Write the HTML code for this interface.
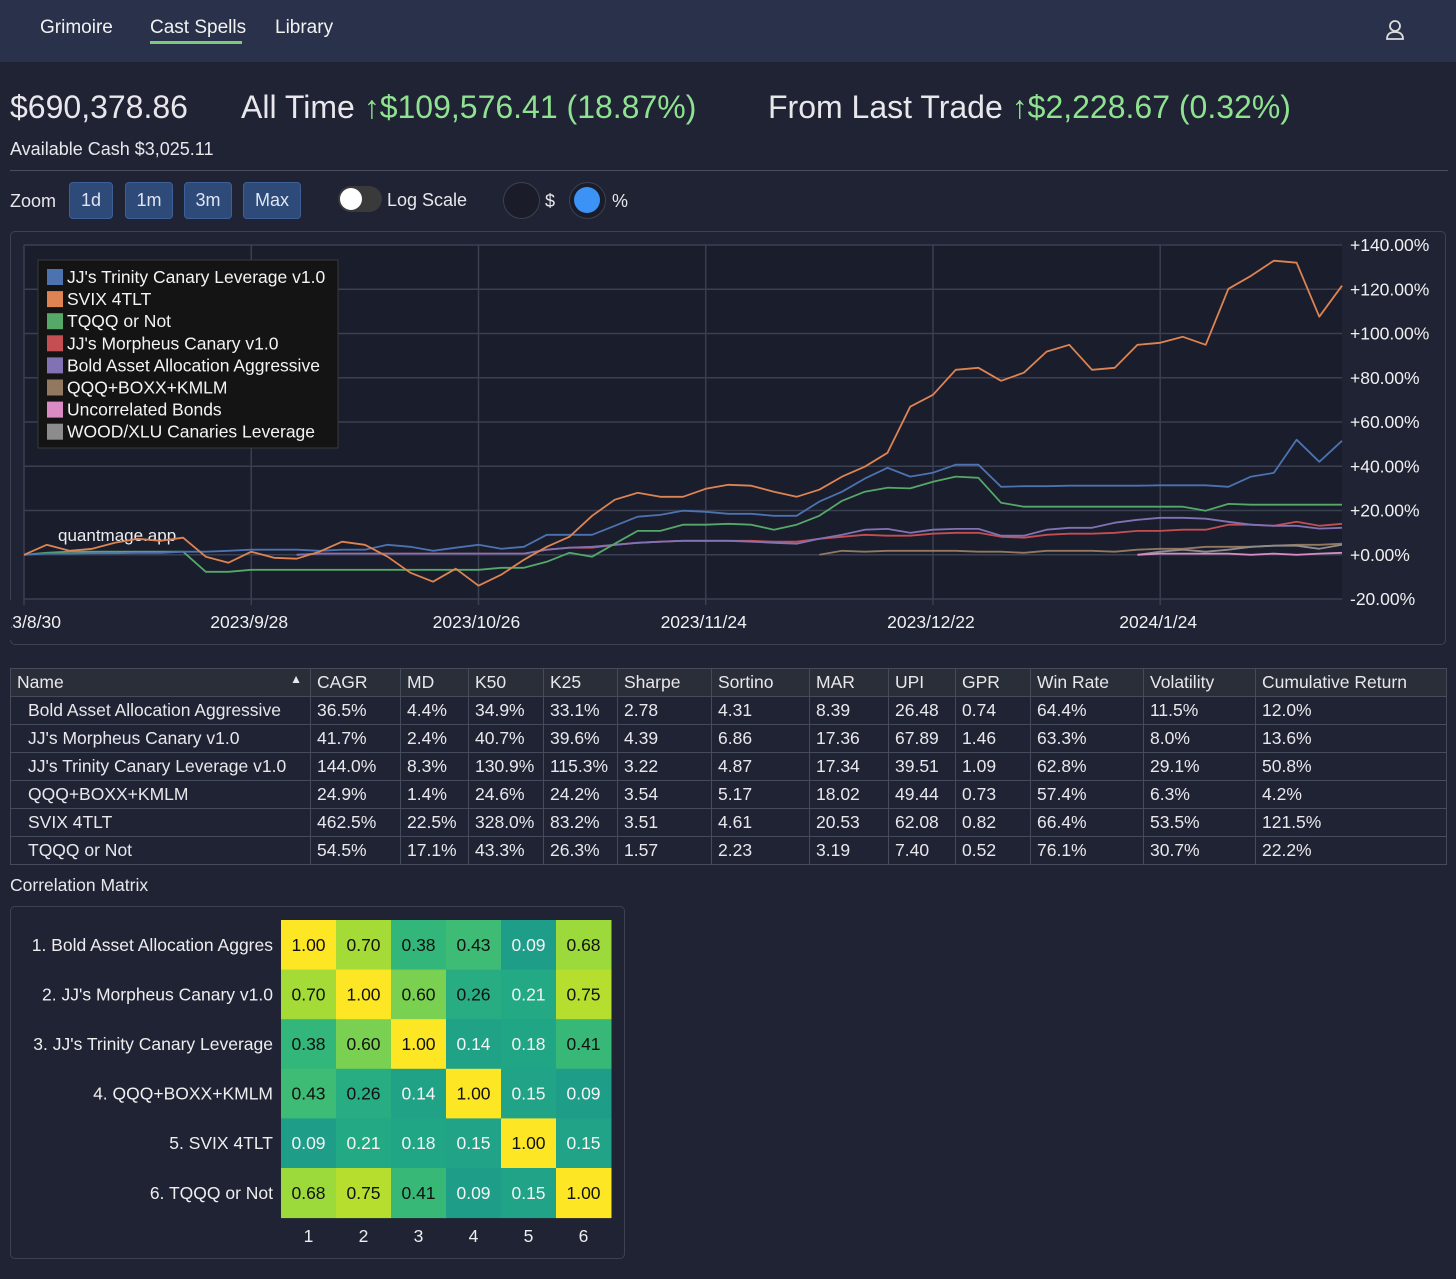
<!DOCTYPE html>
<html><head><meta charset="utf-8">
<style>
*{box-sizing:border-box;margin:0;padding:0}
body{width:1456px;height:1279px;background:#1f2334;color:#e8e8ec;font-family:"Liberation Sans",sans-serif;position:relative;overflow:hidden}
.abs{position:absolute}
.nav{left:0;top:0;width:1456px;height:62px;background:#29324a}
.navi{top:17px;font-size:19px;color:#f2f2f2}
.big{top:89px;font-size:32px;white-space:nowrap}
.g{color:#8fe28f}
.arr{font-weight:bold}
.btn{top:182px;height:37px;background:#2d4a78;border:1px solid #3d6098;border-radius:4px;color:#dfe6f2;font-size:18px;text-align:center;line-height:35px}
table{border-collapse:collapse;font-size:17.5px}
td,th{border:1px solid #454b5a;height:28px;padding:0 0 0 6px;text-align:left;font-weight:normal;white-space:nowrap}
th{background:#2a2e38}
td.nm{padding-left:17px}
</style></head><body>
<div class="abs nav"></div>
<div class="abs navi" style="left:40px">Grimoire</div>
<div class="abs navi" style="left:150px">Cast Spells</div>
<div class="abs" style="left:150px;top:41px;width:92px;height:3px;background:#7dc97d"></div>
<div class="abs navi" style="left:275px">Library</div>
<svg class="abs" style="left:1385px;top:19px" width="20" height="22"><circle cx="10" cy="7" r="5" fill="none" stroke="#ddd" stroke-width="1.8"/><path d="M2 20 Q2 13 10 13 Q18 13 18 20 Z" fill="none" stroke="#ddd" stroke-width="1.8"/></svg>

<div class="abs big" style="left:10px">$690,378.86</div>
<div class="abs big" style="left:241px">All Time <span class="g"><span class="arr">↑</span>$109,576.41 (18.87%)</span></div>
<div class="abs big" style="left:768px">From Last Trade <span class="g"><span class="arr">↑</span>$2,228.67 (0.32%)</span></div>
<div class="abs" style="left:10px;top:139px;font-size:18px">Available Cash $3,025.11</div>
<div class="abs" style="left:10px;top:170px;width:1438px;height:1px;background:#4a4f5e"></div>

<div class="abs" style="left:10px;top:191px;font-size:18px">Zoom</div>
<div class="abs btn" style="left:69px;width:44px">1d</div>
<div class="abs btn" style="left:125px;width:48px">1m</div>
<div class="abs btn" style="left:184px;width:48px">3m</div>
<div class="abs btn" style="left:243px;width:58px">Max</div>
<div class="abs" style="left:338px;top:186px;width:44px;height:26px;border-radius:13px;background:#3a3a3a"><div style="position:absolute;left:2px;top:2px;width:22px;height:22px;border-radius:11px;background:#fff"></div></div>
<div class="abs" style="left:387px;top:190px;font-size:18px">Log Scale</div>
<div class="abs" style="left:503px;top:182px;width:37px;height:37px;border-radius:50%;border:1.5px solid #3c4150;background:#1a1d29"></div>
<div class="abs" style="left:545px;top:191px;font-size:18px">$</div>
<div class="abs" style="left:569px;top:182px;width:37px;height:37px;border-radius:50%;border:1.5px solid #3c4150;background:#1a1d29"><div style="position:absolute;left:4px;top:4px;width:26px;height:26px;border-radius:50%;background:#3d92f5"></div></div>
<div class="abs" style="left:612px;top:191px;font-size:18px">%</div>

<div class="abs" style="left:10px;top:231px;width:1436px;height:414px;border:1.5px solid #3d4252;border-radius:5px"></div>
<svg id="chart" class="abs" style="left:0;top:0" width="1456" height="660"></svg>

<table class="abs" style="left:10px;top:668px;width:1437px">
<colgroup><col style="width:300px"><col style="width:90px"><col style="width:68px"><col style="width:75px"><col style="width:74px"><col style="width:94px"><col style="width:98px"><col style="width:79px"><col style="width:67px"><col style="width:75px"><col style="width:113px"><col style="width:112px"><col></colgroup>
<tr><th>Name<span style="float:right;margin-right:8px;font-size:12px">▲</span></th><th>CAGR</th><th>MD</th><th>K50</th><th>K25</th><th>Sharpe</th><th>Sortino</th><th>MAR</th><th>UPI</th><th>GPR</th><th>Win Rate</th><th>Volatility</th><th>Cumulative Return</th></tr>
<tr><td class="nm">Bold Asset Allocation Aggressive</td><td>36.5%</td><td>4.4%</td><td>34.9%</td><td>33.1%</td><td>2.78</td><td>4.31</td><td>8.39</td><td>26.48</td><td>0.74</td><td>64.4%</td><td>11.5%</td><td>12.0%</td></tr>
<tr><td class="nm">JJ's Morpheus Canary v1.0</td><td>41.7%</td><td>2.4%</td><td>40.7%</td><td>39.6%</td><td>4.39</td><td>6.86</td><td>17.36</td><td>67.89</td><td>1.46</td><td>63.3%</td><td>8.0%</td><td>13.6%</td></tr>
<tr><td class="nm">JJ's Trinity Canary Leverage v1.0</td><td>144.0%</td><td>8.3%</td><td>130.9%</td><td>115.3%</td><td>3.22</td><td>4.87</td><td>17.34</td><td>39.51</td><td>1.09</td><td>62.8%</td><td>29.1%</td><td>50.8%</td></tr>
<tr><td class="nm">QQQ+BOXX+KMLM</td><td>24.9%</td><td>1.4%</td><td>24.6%</td><td>24.2%</td><td>3.54</td><td>5.17</td><td>18.02</td><td>49.44</td><td>0.73</td><td>57.4%</td><td>6.3%</td><td>4.2%</td></tr>
<tr><td class="nm">SVIX 4TLT</td><td>462.5%</td><td>22.5%</td><td>328.0%</td><td>83.2%</td><td>3.51</td><td>4.61</td><td>20.53</td><td>62.08</td><td>0.82</td><td>66.4%</td><td>53.5%</td><td>121.5%</td></tr>
<tr><td class="nm">TQQQ or Not</td><td>54.5%</td><td>17.1%</td><td>43.3%</td><td>26.3%</td><td>1.57</td><td>2.23</td><td>3.19</td><td>7.40</td><td>0.52</td><td>76.1%</td><td>30.7%</td><td>22.2%</td></tr>
</table>

<div class="abs" style="left:10px;top:875px;font-size:17.5px">Correlation Matrix</div>
<div class="abs" style="left:10px;top:906px;width:615px;height:353px;border:1.5px solid #3d4252;border-radius:5px"></div>
<svg id="corr" class="abs" style="left:0;top:900px" width="640" height="370"></svg>

<script>
const NS='http://www.w3.org/2000/svg';
function mk(p,tag,a,txt){const e=document.createElementNS(NS,tag);for(const k in a)e.setAttribute(k,a[k]);if(txt!==undefined)e.textContent=txt;p.appendChild(e);return e;}

// ---- chart data (values in %, sampled every 2 trading days) ----
const seriesNames=["JJ's Trinity Canary Leverage v1.0","SVIX 4TLT","TQQQ or Not","JJ's Morpheus Canary v1.0","Bold Asset Allocation Aggressive","QQQ+BOXX+KMLM","Uncorrelated Bonds","WOOD/XLU Canaries Leverage"];
const seriesColors=["#4c72b0","#dd8452","#55a868","#c44e52","#8172b3","#937860","#da8bc3","#8c8c8c"];
const trinity=[0,0.5,0.5,0.7,0.7,0.9,0.9,1.4,1.4,1.8,2.3,2.3,2.3,1.8,2.3,2.3,4.5,3.6,1.8,3.2,4.5,2.7,3.6,9,9,9,13.1,17.2,18,19.9,19.4,18.5,18.5,17.6,17.6,24,28.5,34.4,39.3,35.3,37.1,40.7,40.7,30.7,31,31,31.2,31.2,31.2,31.2,31.4,31.4,31.4,30.7,35.3,37,52,42,51.5];
const svix=[0,4.5,1.8,2.7,5.4,7.2,6.3,7.7,-0.9,-3.6,1.4,-1.4,-1.8,1.4,5.9,4.5,-0.9,-8.1,-12.2,-6.3,-14,-9,-2.3,3.6,8.1,17.6,24.9,28,26.2,26.2,29.8,31.6,31.2,28.5,26.2,29.4,35.3,39.8,46.1,66.9,72.3,83.6,84.5,78.6,82.3,91.8,94.9,83.6,84.5,94.9,95.8,98.5,94.9,120.2,126.1,132.9,132,107.6,121.6];
const tqqq=[0,0.9,1.4,1.4,1.4,1.4,1.4,1.4,-7.7,-7.7,-6.8,-6.8,-6.8,-6.8,-6.8,-6.8,-6.8,-6.8,-6.8,-6.8,-6.8,-5.9,-5.9,-3.2,0.9,-0.9,5,10.8,10.8,13.6,13.6,14,13.6,11.3,13.6,17.6,24.4,28.5,30.3,30,33,35.3,34.8,23.5,21.7,21.7,21.7,21.7,21.7,21.7,21.7,21.7,19.9,23,22.6,22.6,22.6,22.6,22.6];
const morpheus=[null,null,null,null,null,null,null,null,null,null,null,null,0,0.5,0.5,0.5,0.5,0.5,0.5,0.5,0.5,0.5,0.5,2.3,3.2,3.2,4.5,5.4,5.9,6.3,6.3,6.3,6.3,5.9,5.9,7.2,8.1,9,8.6,8.6,9.5,9.9,9.9,8.1,7.7,9,9.5,9.5,9.9,10.8,10.8,11.3,11.3,13.6,13.6,13.1,14.9,13.1,14.0];
const boldAsset=[null,null,null,null,null,null,null,null,null,null,null,null,0,0.5,0.5,0.5,0.5,0.5,0.5,0.5,0.5,0.5,0.5,2.3,3.2,3.6,4.5,5.4,5.9,6.3,6.3,6.3,5.9,5.4,5.0,7.2,9,11.3,11.7,9.9,11.3,11.7,11.7,8.6,8.6,11.3,12.2,12.2,14.5,15.8,16.7,16.7,16.3,14.9,13.6,13.1,13.1,11.8,12.2];
const qqqBoxx=[null,null,null,null,null,null,null,null,null,null,null,null,null,null,null,null,null,null,null,null,null,null,null,null,null,null,null,null,null,null,null,null,null,null,null,0,1.8,1.4,1.8,1.8,1.8,1.8,1.4,1.4,0.9,1.8,1.8,1.8,1.4,2.3,2.7,2.7,3.6,3.6,3.6,4.1,4.5,4.5,5.0];
const bonds=[null,null,null,null,null,null,null,null,null,null,null,null,null,null,null,null,null,null,null,null,null,null,null,null,null,null,null,null,null,null,null,null,null,null,null,null,null,null,null,null,null,null,null,null,null,null,null,null,null,0,0.5,0.5,0.5,0.5,0,0.5,0,0.5,0.9];
const woodXlu=[null,null,null,null,null,null,null,null,null,null,null,null,null,null,null,null,null,null,null,null,null,null,null,null,null,null,null,null,null,null,null,null,null,null,null,null,null,null,null,null,null,null,null,null,null,null,null,null,null,0,1.4,2.3,1.4,2.3,3.6,4.1,4.1,2.7,4.5];
const yTicks=[140,120,100,80,60,40,20,0,-20];
const xTickLabels=["2023/8/30","2023/9/28","2023/10/26","2023/11/24","2023/12/22","2024/1/24"];
const xTickIdx=[0,20,40,60,80,100];

const PL=24,PR=1342,PT=245,PB=599,YMAX=140,YMIN=-20,NMAX=116;
const xS=i=>PL+(i/NMAX)*(PR-PL);
const yS=v=>PT+(YMAX-v)/(YMAX-YMIN)*(PB-PT);
const svg=document.getElementById('chart');
const bg=mk(svg,'rect',{x:PL,y:PT,width:PR-PL,height:PB-PT,fill:'#191d2c'});


yTicks.forEach(v=>{
  const l=mk(svg,'line',{x1:PL,x2:PR,y1:yS(v),y2:yS(v),stroke:'#3a3f52','stroke-width':1.5});
  
  
  const t=mk(svg,'text',{x:1350,y:yS(v)+6,fill:'#f0f0f0','font-size':17.5,'font-family':'Liberation Sans, sans-serif'},(v>=0?'+':'')+v.toFixed(2)+'%');
  
  
});
xTickIdx.forEach((ix,k)=>{
  const l=mk(svg,'line',{x1:xS(ix),x2:xS(ix),y1:PT,y2:PB+6,stroke:'#3a3f52','stroke-width':1.5});
  
  
  const t=mk(svg,'text',{x:xS(ix)-2,y:628,fill:'#f0f0f0','font-size':17.5,'text-anchor':'middle','font-family':'Liberation Sans, sans-serif'},xTickLabels[k]);
  
  
});
const cover=mk(svg,'rect',{x:0,y:600,width:11,height:40,fill:'#1f2334'});


const wm=mk(svg,'text',{x:58,y:541,fill:'#eeeeee','font-size':17,'font-family':'Liberation Sans, sans-serif'},'quantmage.app');


const allSeries=[trinity,svix,tqqq,morpheus,boldAsset,qqqBoxx,bonds,woodXlu];
const drawOrder=[5,7,6,3,4,2,0,1];
drawOrder.forEach(si=>{
  const d=allSeries[si];let p='';
  d.forEach((v,i)=>{if(v===null)return;p+=(p?'L':'M')+xS(i*2).toFixed(1)+' '+yS(v).toFixed(1);});
  const e=mk(svg,'path',{d:p,fill:'none',stroke:seriesColors[si],'stroke-width':1.8,'stroke-linejoin':'round'});
  
  
});
const lg=mk(svg,'rect',{x:38,y:260,width:300,height:188,fill:'#141414',stroke:'#3a3a3a'});


seriesNames.forEach((n,i)=>{
  const y=277+i*22.1;
  const s=mk(svg,'rect',{x:47,y:y-8,width:16,height:16,fill:seriesColors[i]});
  
  
  const t=mk(svg,'text',{x:67,y:y+6,fill:'#f4f4f4','font-size':17.5,'font-family':'Liberation Sans, sans-serif'},n);
  
  
});

// ---- correlation data ----
const corrLabels=["1. Bold Asset Allocation Aggres","2. JJ's Morpheus Canary v1.0","3. JJ's Trinity Canary Leverage","4. QQQ+BOXX+KMLM","5. SVIX 4TLT","6. TQQQ or Not"];
const corrColLabels=["1","2","3","4","5","6"];
const corrRow1=[1.00,0.70,0.38,0.43,0.09,0.68];
const corrRow2=[0.70,1.00,0.60,0.26,0.21,0.75];
const corrRow3=[0.38,0.60,1.00,0.14,0.18,0.41];
const corrRow4=[0.43,0.26,0.14,1.00,0.15,0.09];
const corrRow5=[0.09,0.21,0.18,0.15,1.00,0.15];
const corrRow6=[0.68,0.75,0.41,0.09,0.15,1.00];
const corrRows=[corrRow1,corrRow2,corrRow3,corrRow4,corrRow5,corrRow6];
const vir=[[0.5,[33,145,140]],[0.55,[30,158,137]],[0.6,[34,168,132]],[0.65,[42,176,127]],[0.7,[53,183,121]],[0.75,[84,197,104]],[0.8,[122,209,81]],[0.85,[165,219,54]],[0.9,[196,224,40]],[0.95,[225,228,30]],[1.0,[253,231,37]]];
function color(v){const t=0.5+0.5*v;for(let i=1;i<vir.length;i++){if(t<=vir[i][0]){const [a,ca]=vir[i-1],[b,cb]=vir[i];const f=(t-a)/(b-a);return 'rgb('+ca.map((c,k)=>Math.round(c+(cb[k]-c)*f)).join(',')+')';}}return 'rgb(253,231,37)';}
const cs=document.getElementById('corr');
const CX=281,CY=20,CW=55,CH=49.6;
corrRows.forEach((row,r)=>{
  const lb=mk(cs,'text',{x:273,y:CY+CH*r+CH/2+6,fill:'#eeeeee','font-size':17.5,'text-anchor':'end','font-family':'Liberation Sans, sans-serif'},corrLabels[r]);
  
  
  row.forEach((v,c)=>{
    const cell=mk(cs,'rect',{x:CX+CW*c,y:CY+CH*r,width:CW+0.5,height:CH+0.5,fill:color(v)});
    
    
    const t=mk(cs,'text',{x:CX+CW*c+CW/2,y:CY+CH*r+CH/2+6,fill:v>=0.25?'#111':'#f4f4f4','font-size':17.5,'text-anchor':'middle','font-family':'Liberation Sans, sans-serif'},v.toFixed(2));
    
    
  });
});
corrColLabels.forEach((l,c)=>{
  const t=mk(cs,'text',{x:CX+CW*c+CW/2,y:342,fill:'#eeeeee','font-size':17.5,'text-anchor':'middle','font-family':'Liberation Sans, sans-serif'},l);
  
  
});
</script>
</body></html>
